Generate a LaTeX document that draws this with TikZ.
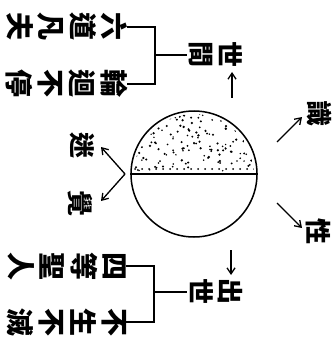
\documentclass[tikz,border=0pt]{standalone}
\usepackage{fontspec}
\newfontfamily\cjk{Noto Sans CJK TC}
\usetikzlibrary{arrows.meta}
\begin{document}
\begin{tikzpicture}[x=1pt,y=-1pt,
  txt/.style={rotate=-90, inner sep=0pt, align=center, font=\cjk\bfseries\fontsize{28}{31.5}\selectfont},
  pair/.style={rotate=-90, inner sep=0pt, align=center, font=\cjk\bfseries\fontsize{26}{29}\selectfont},
  one/.style={rotate=-90, inner sep=0pt, font=\cjk\bfseries\fontsize{26}{26}\selectfont},
  arr/.style={line width=1.3pt, -{Straight Barb[length=6pt,width=8pt]}},
  ln/.style={line width=1.2pt},
  dot/.style={fill=black}]
\useasboundingbox[fill=white] (0,0) rectangle (336,350);
% circle
\node[circle, draw, line width=1.5pt, minimum size=126pt, inner sep=0pt] (circ) at (194,174) {};
\begin{scope}
  \clip (131,111) rectangle (257,172);
  \clip (194,174) circle (60);
  \pgfmathsetseed{4321}
  \foreach \i in {1,...,170}{
    \pgfmathsetmacro\xx{194+62*rand}
    \pgfmathsetmacro\yy{141+30*rand}
    \pgfmathsetmacro\rr{0.8+0.5*rnd}
    \fill[dot] (\xx,\yy) circle (\rr);
  }
  \foreach \x in {135,142,...,256}{\fill[dot] (\x,169) circle (1);}
\end{scope}
\draw[line width=1.4pt] (circ.west) -- (circ.east);
% texts
\node[txt] (liudao) at (67,27) {六\\道\\凡\\夫};
\node[txt] (lunhui) at (67,84) {輪\\迴\\不\\停};
\node[txt] (sideng) at (67,266) {四\\等\\聖\\人};
\node[txt] (busheng) at (67,322) {不\\生\\不\\滅};
\node[pair] (shijian) at (216,55) {世\\間};
\node[pair] (chushi) at (216,291) {出\\世};
\node[one] (mi) at (82,145) {迷};
\node[one] (jue) at (80,203) {覺};
\node[one] (shi) at (319,113) {識};
\node[one] (xing) at (318,231) {性};
% top bracket
\coordinate (tA) at (127,27);
\coordinate (tB) at (155,27);
\coordinate (tC) at (155,84);
\coordinate (tD) at (127,84);
\coordinate (tM) at (155,55);
\coordinate (tE) at (187,55);
\draw[ln] (tA) -- (tB) -- (tC) -- (tD);
\draw[ln] (tM) -- (tE);
% bottom bracket
\coordinate (bA) at (126,266);
\coordinate (bB) at (154,266);
\coordinate (bC) at (154,322);
\coordinate (bD) at (126,322);
\coordinate (bM) at (154,292);
\coordinate (bE) at (187,292);
\draw[ln] (bA) -- (bB) -- (bC) -- (bD);
\draw[ln] (bM) -- (bE);
% arrows
\coordinate (upT) at (232,98);
\coordinate (upH) at (232,72);
\coordinate (dnT) at (231,250);
\coordinate (dnH) at (231,275);
\draw[arr] (upT) -- (upH);
\draw[arr] (dnT) -- (dnH);
\coordinate (L) at (125,174);
\coordinate (miH) at (101,147);
\coordinate (jueH) at (101,201);
\draw[arr] (L) -- (miH);
\draw[arr] (L) -- (jueH);
\coordinate (shiT) at (277,142);
\coordinate (shiH) at (302,117);
\coordinate (xingT) at (277,203);
\coordinate (xingH) at (302,228);
\draw[arr] (shiT) -- (shiH);
\draw[arr] (xingT) -- (xingH);
\end{tikzpicture}
\end{document}
